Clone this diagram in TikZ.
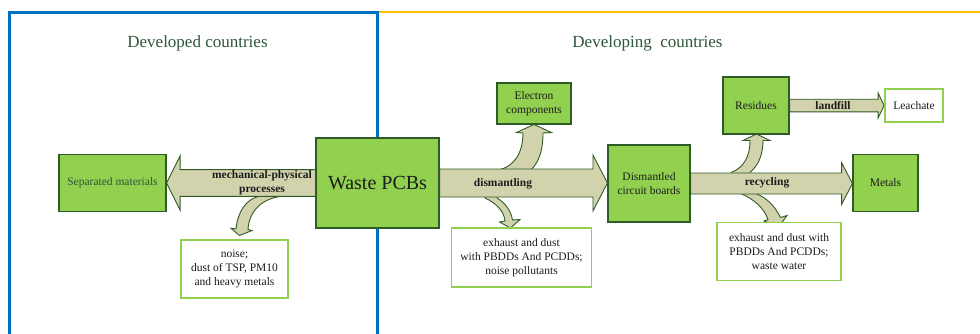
\documentclass[tikz,border=0pt]{standalone}
\usepackage{fontspec}
\setmainfont{Liberation Serif}
\usetikzlibrary{calc}
\pgfdeclarelayer{bg}
\pgfsetlayers{bg,main}
\definecolor{fillgreen}{HTML}{92D050}
\definecolor{edgegreen}{HTML}{2F5B27}
\definecolor{arrowtan}{RGB}{210,211,172}
\definecolor{headgreen}{HTML}{2E5638}
\definecolor{frameblue}{HTML}{0070C0}
\definecolor{frameorange}{HTML}{FFC000}
\definecolor{txt}{HTML}{1C1C1C}
\tikzset{
  gbox/.style={draw=edgegreen, fill=fillgreen, line width=1.1pt, inner sep=0pt, align=center, text=txt, font=\fontsize{11.5}{14.5}\selectfont},
  wbox/.style={draw=fillgreen, fill=white, line width=1.8pt, inner sep=0pt, align=center, text=txt, font=\fontsize{11.5}{13.8}\selectfont},
  barrow/.style={draw=edgegreen, fill=arrowtan, line width=0.9pt, line join=miter},
  alabel/.style={font=\bfseries\fontsize{11.5}{14}\selectfont, text=txt, align=center, inner sep=0pt},
  header/.style={font=\fontsize{17}{20}\selectfont, text=headgreen, inner sep=0pt},
}
% #1 base, #2 tip, #3 half body, #4 half head, #5 signed offset from tip to head base
\newcommand\hblockarrow[5]{%
  \draw[barrow] ($(#1)+(0,-#3)$) -- ($(#2)+(#5,-#3)$) -- ($(#2)+(#5,-#4)$) -- (#2)
    -- ($(#2)+(#5,#4)$) -- ($(#2)+(#5,#3)$) -- ($(#1)+(0,#3)$) -- cycle;}
\begin{document}
\begin{tikzpicture}[x=1pt,y=-1pt]
\useasboundingbox (0,0) rectangle (980,333);

% nodes
\node[header] (hdev) at (197.5,43) {Developed countries};
\node[header] (hdvg) at (647.5,43) {Developing\ \ countries};

\node[gbox, minimum width=107pt, minimum height=57pt, text=headgreen] (sep) at (112.5,183) {Separated materials};
\node[gbox, minimum width=123pt, minimum height=90pt, font=\fontsize{20}{24}\selectfont] (wp) at (377.5,183) {Waste PCBs};
\node[gbox, minimum width=74pt, minimum height=41pt] (ec) at (534,103.5) {Electron\\components};
\node[gbox, minimum width=82pt, minimum height=77pt] (dis) at (649,183.5) {Dismantled\\circuit boards};
\node[gbox, minimum width=66pt, minimum height=57pt] (res) at (756,105.5) {Residues};
\node[gbox, minimum width=65pt, minimum height=57.5pt] (met) at (885.5,183) {Metals};
\node[wbox, minimum width=58pt, minimum height=33pt] (lea) at (914,105.5) {Leachate};
\node[wbox, minimum width=107pt, minimum height=58pt] (noise) at (234.5,269) {noise;\\dust of TSP, PM10\\and heavy metals};
\node[wbox, minimum width=140pt, minimum height=59pt] (ex1) at (521.5,257.5) {exhaust and dust\\with PBDDs And PCDDs;\\noise pollutants};
\node[wbox, minimum width=124pt, minimum height=58pt] (ex2) at (779,251.5) {exhaust and dust with\\PBDDs And PCDDs;\\waste water};

\coordinate (mechT) at (sep.east |- wp.west);
\coordinate (disT) at (dis.west |- wp.east);
\coordinate (recT) at (met.west |- dis.east);
\coordinate (landT) at (lea.west |- res.east);

\begin{pgfonlayer}{bg}
  % frame
  \draw[frameorange, line width=2.2pt] (377.7,12.3) -- (980,12.3);
  \draw[frameblue, line width=2.6pt] (9.3,334) -- (9.3,12.3) -- (377.7,12.3) -- (377.7,334);

  % curved side arrows
  % to noise box
  \draw[barrow] (283,192) -- (280,196.5) .. controls (262,199) and (249,211) .. (248,229.5)
    -- (252,230.5) -- (239.5,235.5) -- (231,228.3) -- (236,228.8)
    .. controls (238,211) and (246,200) .. (258,196.5) -- (259,192) -- cycle;
  % to electron components
  \draw[barrow] (497,174) -- (498,170) .. controls (514,167) and (523,153) .. (523,133)
    -- (516.5,132.5) -- (534,124.5) -- (551.5,132.5) -- (543,133)
    .. controls (543,152) and (538,163) .. (531,170) -- (531,174) -- cycle;
  % to exhaust box 1
  \draw[barrow] (484,194) -- (485,198) .. controls (496,203) and (504,211) .. (505,221)
    -- (499.5,222) -- (510.5,228) -- (520,219.5) -- (512.5,220)
    .. controls (511,210) and (504,202) .. (497,198) -- (497,194) -- cycle;
  % to residues
  \draw[barrow] (730,176) -- (731.5,172.3) .. controls (745,167) and (750,155) .. (750,140.5)
    -- (743,140.5) -- (756.5,134) -- (770,140.5) -- (763,140.5)
    .. controls (763,155) and (758,166) .. (750,172.3) -- (750,176) -- cycle;
  % to exhaust box 2
  \draw[barrow] (739,189) -- (740,193.3) .. controls (754,199) and (764,208) .. (768,219.5)
    -- (764,221) -- (779,226.5) -- (787,215.5) -- (780.5,217.5)
    .. controls (775,206) and (766,197) .. (755,193.3) -- (755,189) -- cycle;

  % main block arrows
  \hblockarrow{wp.west}{mechT}{13.4}{27.2}{13.6}
  \hblockarrow{wp.east}{disT}{14}{28}{-14.5}
  \hblockarrow{dis.east}{recT}{10.5}{20.7}{-10.8}
  \hblockarrow{res.east}{landT}{6.3}{12.5}{-6}
\end{pgfonlayer}

% arrow labels
\node[alabel] (mechlbl) at (262,183) {mechanical-physical\\processes};
\node[alabel] (dislbl) at (503,184) {dismantling};
\node[alabel] (reclbl) at (767,183) {recycling};
\node[alabel] (landlbl) at (833,105.5) {landfill};
\end{tikzpicture}
\end{document}
